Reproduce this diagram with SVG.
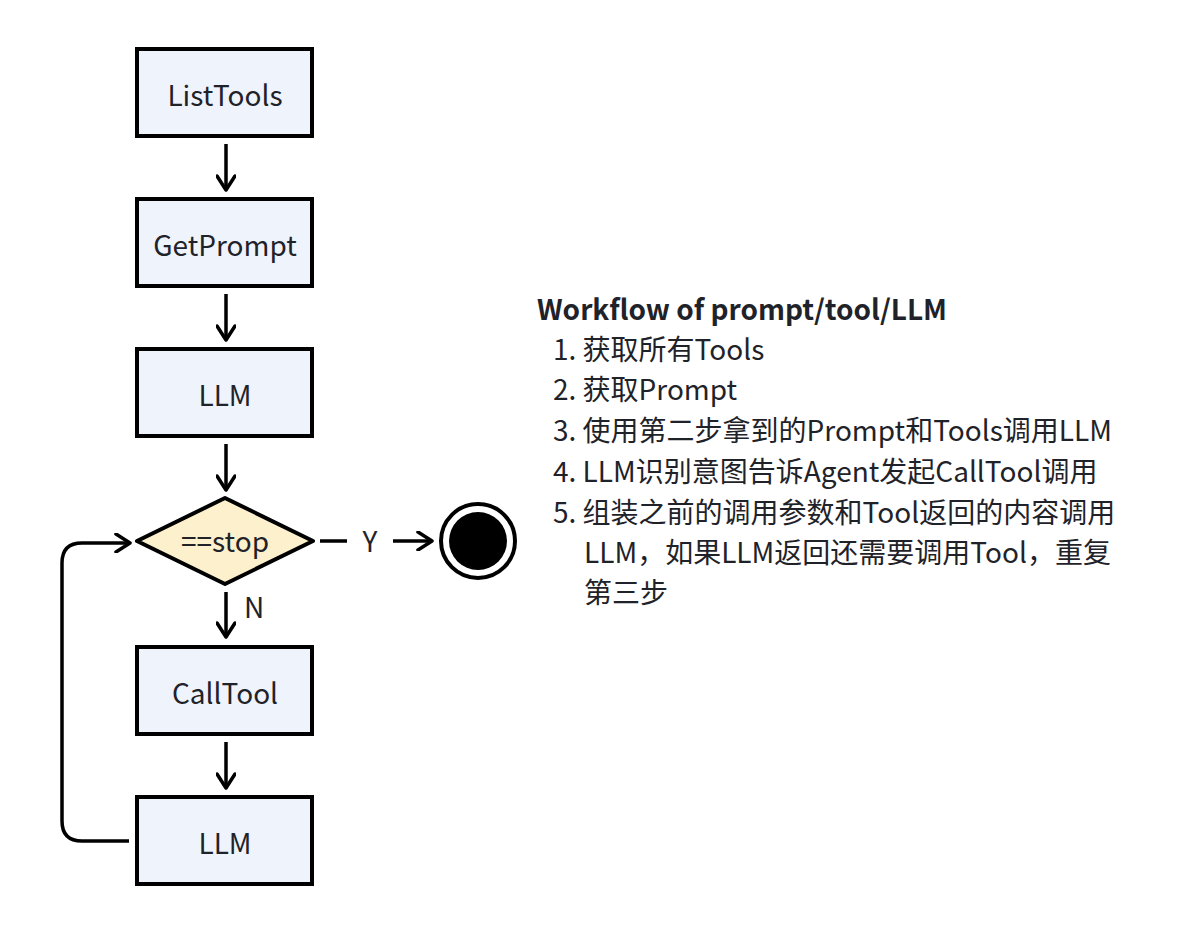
<svg xmlns="http://www.w3.org/2000/svg" width="1186" height="934" viewBox="0 0 1186 934">
<style>
.box{fill:#eff3fc;stroke:#000;stroke-width:4}
.dia{fill:#fdf0cc;stroke:#000;stroke-width:4;stroke-linejoin:round}
.lbl{font-family:"Noto Sans CJK SC","Noto Sans",sans-serif;font-size:28px;fill:#1f2329;text-anchor:middle}
.edge{fill:none;stroke:#000;stroke-width:3.5}
.txt{font-family:"Noto Sans CJK SC","Noto Sans",sans-serif;font-size:28px;fill:#1f2329}
</style>
<defs>
<marker id="arr" viewBox="0 0 20 20" refX="17" refY="10" markerWidth="20" markerHeight="20" markerUnits="userSpaceOnUse" orient="auto">
<path d="M3,1 L17,10 L3,19" fill="none" stroke="#000" stroke-width="3.5" stroke-linecap="round" stroke-linejoin="round"/>
</marker>
</defs>
<rect width="1186" height="934" fill="#fff"/>
<g id="connectors">
<path class="edge" d="M226,144 V190" marker-end="url(#arr)"/>
<path class="edge" d="M226,294 V340" marker-end="url(#arr)"/>
<path class="edge" d="M226,444 V490" marker-end="url(#arr)"/>
<path class="edge" d="M226,592 V637" marker-end="url(#arr)"/>
<path class="edge" d="M226,742 V788" marker-end="url(#arr)"/>
<path class="edge" d="M320,541 H347"/>
<path class="edge" d="M393,541 H432" marker-end="url(#arr)"/>
<path class="edge" d="M129,841 H82 Q62,841 62,821 V563 Q62,543 82,543 H130" marker-end="url(#arr)"/>
<text class="lbl" x="370" y="552">Y</text>
<text class="lbl" x="254" y="618">N</text>
</g>
<g id="n1"><rect class="box" x="137" y="49" width="175" height="87"/><text class="lbl" x="225" y="106">ListTools</text></g>
<g id="n2"><rect class="box" x="137" y="199" width="175" height="87"/><text class="lbl" x="225" y="256">GetPrompt</text></g>
<g id="n3"><rect class="box" x="137" y="349" width="175" height="87"/><text class="lbl" x="225" y="406">LLM</text></g>
<g id="n4"><path class="dia" d="M225,498 L313,541 L225,584 L137,541 Z"/><text class="lbl" x="225" y="552">==stop</text></g>
<g id="end"><circle cx="478" cy="541" r="37" fill="#fff" stroke="#000" stroke-width="4"/><circle cx="478" cy="541" r="29" fill="#000"/></g>
<g id="n5"><rect class="box" x="137" y="647" width="175" height="87"/><text class="lbl" x="225" y="704">CallTool</text></g>
<g id="n6"><rect class="box" x="137" y="797" width="175" height="87"/><text class="lbl" x="225" y="854">LLM</text></g>
<g id="note">
<text class="txt" x="537" y="320" font-weight="bold" font-size="27">Workflow of prompt/tool/LLM</text>
<text class="txt" x="553" y="360">1. 获取所有Tools</text>
<text class="txt" x="553" y="400">2. 获取Prompt</text>
<text class="txt" x="553" y="441">3. 使用第二步拿到的Prompt和Tools调用LLM</text>
<text class="txt" x="553" y="482">4. LLM识别意图告诉Agent发起CallTool调用</text>
<text class="txt" x="553" y="523">5. 组装之前的调用参数和Tool返回的内容调用</text>
<text class="txt" x="584" y="563">LLM，如果LLM返回还需要调用Tool，重复</text>
<text class="txt" x="584" y="603">第三步</text>
</g>
</svg>
